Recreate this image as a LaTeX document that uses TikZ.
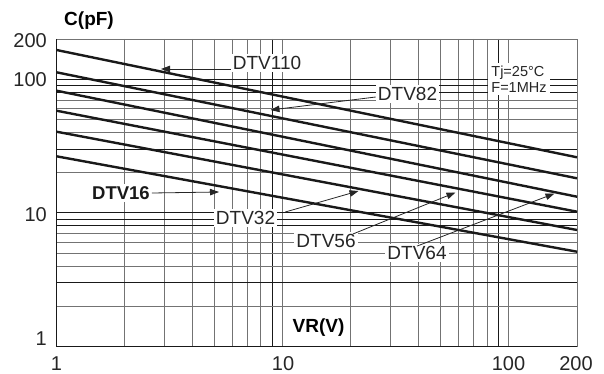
\documentclass[tikz,border=0pt]{standalone}
\usepackage{fontspec}
\setmainfont{Liberation Sans}
\usetikzlibrary{arrows.meta}
\begin{document}
\begin{tikzpicture}[x=1pt,y=-1pt,
  gridg/.style={draw=black!55, line width=0.9pt},
  gridk/.style={draw=black!90, line width=0.9pt},
  curve/.style={draw=black!90, line width=2.4pt},
  lab/.style={fill=white, inner sep=2pt, text=black!85, font=\fontsize{19}{21}\selectfont},
  tick/.style={inner sep=0pt, text=black!85, font=\fontsize{20}{22}\selectfont},
  arr/.style={draw=black!85, line width=0.8pt, -{Triangle[length=9pt,width=6.5pt]}},
]
\useasboundingbox (0,0) rectangle (604,374);
% vertical grid
\foreach \v in {2,3,4,5,6,7,8,10,20,30,40,50,60,70,80,100} {
  \pgfmathsetmacro\xx{56.5+226.2*log10(\v)}
  \draw[gridg] (\xx,39) -- (\xx,346.5);
}
\foreach \v in {9,90} {
  \pgfmathsetmacro\xx{56.5+226.2*log10(\v)}
  \draw[gridk] (\xx,39) -- (\xx,346.5);
}
% horizontal grid
\foreach \v in {2,4,5,6,7,20,40,50,60,70} {
  \pgfmathsetmacro\yy{346.5-133.6*log10(\v)}
  \draw[gridg] (56.5,\yy) -- (577,\yy);
}
\foreach \v in {3,8,9,10,30,80,90,100} {
  \pgfmathsetmacro\yy{346.5-133.6*log10(\v)}
  \draw[gridk] (56.5,\yy) -- (577,\yy);
}
% frame
\draw[gridg] (56.5,39) -- (577,39) -- (577,346.5);
\draw[gridk] (56.5,39) -- (56.5,346.5) -- (577,346.5);
% labels with white boxes
\node[lab] (l110) at (267,63) {DTV110};
\node[lab] (l82) at (407.5,94) {DTV82};
\node[lab, font=\bfseries\fontsize{18.5}{21}\selectfont, text=black!90] (l16) at (121,193) {DTV16};
\node[lab] (l32) at (245.5,218) {DTV32};
\node[lab] (l56) at (326,241) {DTV56};
\node[lab] (l64) at (417,253) {DTV64};
\node[lab, align=left, font=\fontsize{14.5}{15.5}\selectfont, inner sep=3pt] (cond) at (519,79) {Tj=25°C\\F=1MHz};
\node[lab, font=\bfseries\fontsize{19}{21}\selectfont, inner sep=4pt, text=black] (vr) at (318.5,328) {VR(V)};
% curves
\draw[curve] (56.5,50) -- (577,157.3);
\draw[curve] (56.5,72.3) -- (577,178.3);
\draw[curve] (56.5,90.7) -- (577,196.7);
\draw[curve] (56.5,110.7) -- (577,211.7);
\draw[curve] (56.5,131.7) -- (577,230);
\draw[curve] (56.5,156.3) -- (577,251.7);
% arrows
\coordinate (t110) at (161,69);
\coordinate (t82) at (270.5,110);
\coordinate (t16) at (219,192);
\coordinate (t32) at (358.5,191);
\coordinate (t56) at (455.5,192.5);
\coordinate (t64) at (554.5,193.5);
\draw[arr] ([yshift=-6pt]l110.west) -- (t110);
\draw[arr] ([yshift=-3pt]l82.west) -- (t82);
\draw[arr] (l16.east) -- (t16);
\draw[arr] ([xshift=8pt,yshift=6pt]l32.east) -- (t32);
\draw[arr] ([xshift=-5pt,yshift=-2pt]l56.north east) -- (t56);
\draw[arr] ([yshift=-2pt]l64.north) -- (t64);
% axis titles
\node[tick, font=\bfseries\fontsize{19}{21}\selectfont, text=black] (cpf) at (89,21) {C(pF)};
% tick labels
\node[tick, anchor=east] (y200) at (47,41) {200};
\node[tick, anchor=east] (y100) at (47,80) {100};
\node[tick, anchor=east] (y10) at (47,215) {10};
\node[tick, anchor=east] (y1) at (47,339) {1};
\node[tick] (x1) at (56.5,364) {1};
\node[tick] (x10) at (283,364) {10};
\node[tick] (x100) at (508.5,364) {100};
\node[tick] (x200) at (576,364) {200};
\end{tikzpicture}
\end{document}
